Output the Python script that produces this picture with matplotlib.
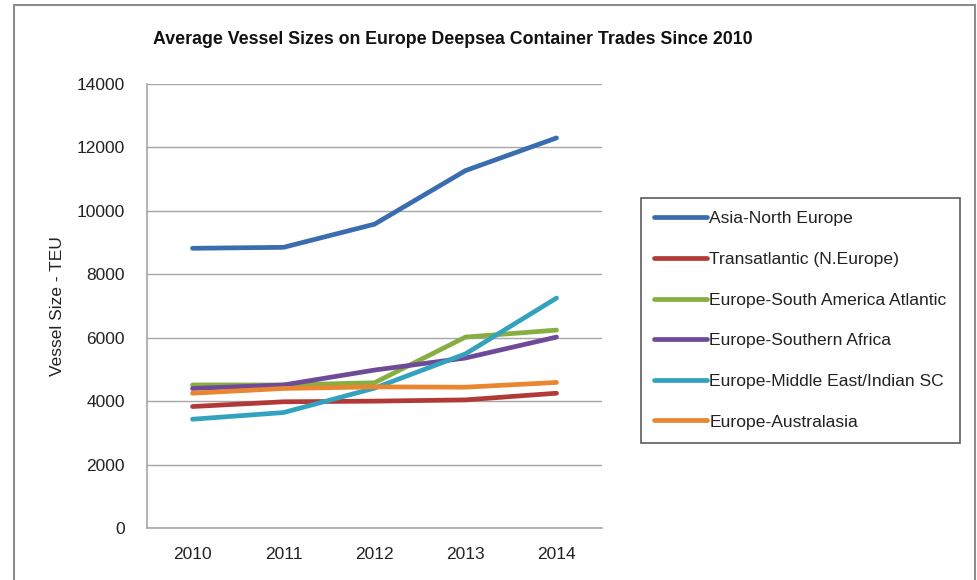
import matplotlib.pyplot as plt
from matplotlib.patches import Rectangle
from matplotlib import font_manager

years = ["2010", "2011", "2012", "2013", "2014"]
series_names = ["Asia-North Europe", "Transatlantic (N.Europe)",
                "Europe-South America Atlantic", "Europe-Southern Africa",
                "Europe-Middle East/Indian SC", "Europe-Australasia"]
asia_north_europe = [8820, 8850, 9580, 11270, 12300]
transatlantic = [3830, 3980, 4000, 4040, 4250]
south_america = [4510, 4510, 4580, 6020, 6240]
southern_africa = [4400, 4510, 4980, 5360, 6020]
middle_east = [3430, 3640, 4410, 5490, 7250]
australasia = [4250, 4400, 4450, 4440, 4590]
colors = ["#3A6CB0", "#B23A36", "#86AE42", "#6E4A98", "#33A2BF", "#EA8530"]

# narrow font like Arial Narrow if available
names = {f.name for f in font_manager.fontManager.ttflist}
fam = ["Liberation Sans Narrow"] if "Liberation Sans Narrow" in names else ["Liberation Sans"]
plt.rcParams['font.family'] = fam + ["DejaVu Sans"]

fig = plt.figure(figsize=(9.77, 5.8), dpi=100)
fig.patches.append(Rectangle((14/977, -0.01), (975-14)/977, 1 - 5/580 + 0.01,
                             transform=fig.transFigure, fill=False,
                             edgecolor="#8c8c8c", linewidth=1.5))
ax = fig.add_axes([147/977, 1-528/580, 455/977, (528-84)/580])

data = [asia_north_europe, transatlantic, south_america, southern_africa, middle_east, australasia]
x = range(len(years))
for vals, name, c in zip(data, series_names, colors):
    ax.plot(x, vals, color=c, linewidth=3.4, label=name, solid_capstyle='round')

ax.set_xlim(-0.5, 4.5)
ax.set_ylim(0, 14000)
ax.set_yticks(range(0, 14001, 2000))
ax.set_xticks(list(x))
ax.set_xticklabels(years)
ax.grid(axis='y', color="#a6a6a6", linewidth=1)
ax.set_axisbelow(True)
for s in ["top", "right"]:
    ax.spines[s].set_visible(False)
for s in ["left", "bottom"]:
    ax.spines[s].set_color("#a6a6a6")
    ax.spines[s].set_linewidth(1.2)
ax.tick_params(length=0, labelsize=12.5, colors="#222222", pad=14)
ax.tick_params(axis='y', pad=16)
ax.set_ylabel("Vessel Size - TEU", fontsize=12.5, color="#222222", labelpad=8)

fig.text(453/977, 1-40/580, "Average Vessel Sizes on Europe Deepsea Container Trades Since 2010",
         ha='center', va='center', fontsize=12.8, fontweight='bold', color="#111111")

leg = fig.legend(loc='upper left', bbox_to_anchor=(641/977, 1-198/580), frameon=True,
                 fancybox=False, edgecolor="#333333", fontsize=12.6,
                 handlelength=3.0, handletextpad=0.15, labelspacing=1.45,
                 borderpad=0.75, borderaxespad=0)
leg.get_frame().set_linewidth(1.2)
for t in leg.get_texts():
    t.set_color("#222222")

fig.savefig("out.png", dpi=100)
